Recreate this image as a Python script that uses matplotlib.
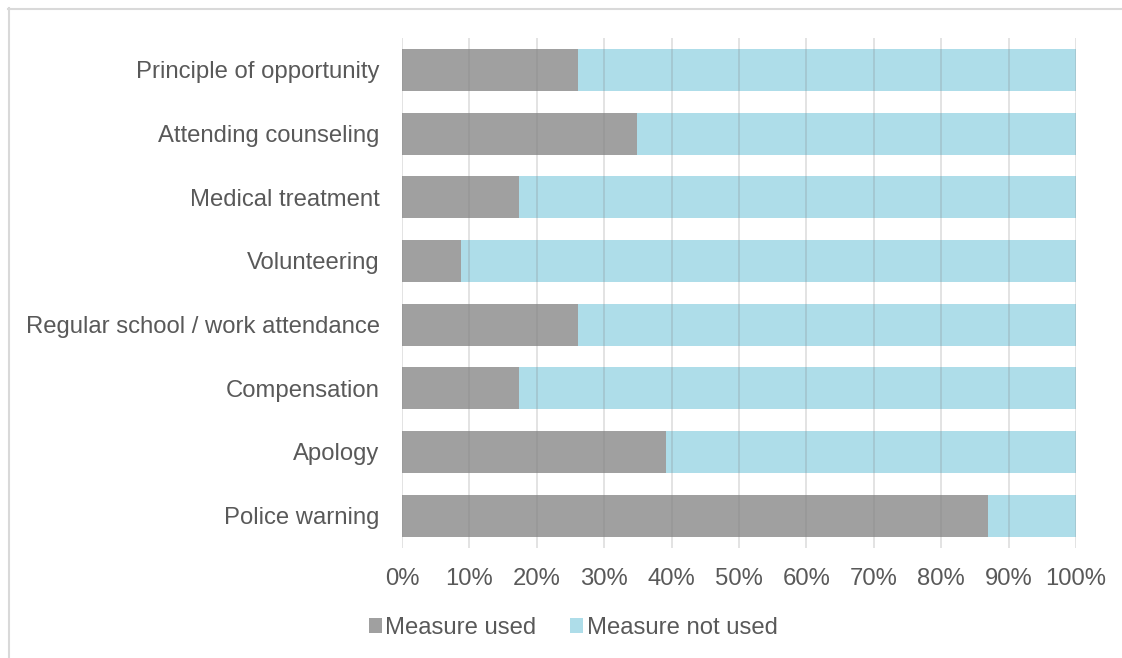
import matplotlib
matplotlib.use("Agg")
import matplotlib.pyplot as plt
from matplotlib.lines import Line2D
from matplotlib.patches import Patch

categories = ["Principle of opportunity", "Attending counseling", "Medical treatment",
              "Volunteering", "Regular school / work attendance", "Compensation",
              "Apology", "Police warning"]
used = [26.1, 34.8, 17.4, 8.7, 26.1, 17.4, 39.1, 87.0]
not_used = [100 - u for u in used]
xticks = [0, 10, 20, 30, 40, 50, 60, 70, 80, 90, 100]
series_names = ["Measure used", "Measure not used"]

plt.rcParams['font.family'] = ['Liberation Sans', 'DejaVu Sans']
text_color = "#595959"
c_used = "#A0A0A0"
c_not = "#AEDDE9"
fs = 17.2

W, H = 1122, 658
fig = plt.figure(figsize=(W / 100, H / 100), dpi=100)
ax = fig.add_axes([402 / W, 1 - 547.5 / H, (1076 - 402) / W, (547.5 - 38) / H])

y = list(range(len(categories)))
ax.barh(y, used, height=0.66, color=c_used, zorder=1)
ax.barh(y, not_used, left=used, height=0.66, color=c_not, zorder=1)
ax.set_ylim(len(categories) - 0.5, -0.5)
ax.set_xlim(0, 100)
for t in xticks:
    ax.axvline(t, color="#808080", lw=1.4, zorder=2, alpha=0.22)

ax.set_xticks(xticks)
ax.set_xticklabels([f"{t}%" for t in xticks], fontsize=fs, color=text_color)
ax.set_yticks(y)
ax.set_yticklabels(categories, fontsize=fs, color=text_color)
ax.tick_params(axis='both', length=0)
ax.tick_params(axis='x', pad=15)
ax.tick_params(axis='y', pad=16)
for s in ax.spines.values():
    s.set_visible(False)

handles = [Patch(facecolor=c_used, edgecolor='none'), Patch(facecolor=c_not, edgecolor='none')]
leg = fig.legend(handles, series_names, loc='center', bbox_to_anchor=(573 / W, 1 - 628 / H),
                 ncol=2, frameon=False, fontsize=fs, handlelength=0.55, handleheight=0.55,
                 handletextpad=0.15, columnspacing=1.4, labelcolor=text_color)

fig.add_artist(Line2D([8 / W, 1.0], [1 - 8.5 / H, 1 - 8.5 / H], color="#D9D9D9", lw=1.5,
                      transform=fig.transFigure))
fig.add_artist(Line2D([8.5 / W, 8.5 / W], [0, 1 - 8 / H], color="#D9D9D9", lw=1.5,
                      transform=fig.transFigure))

fig.savefig("out.png", dpi=100, facecolor="white")
